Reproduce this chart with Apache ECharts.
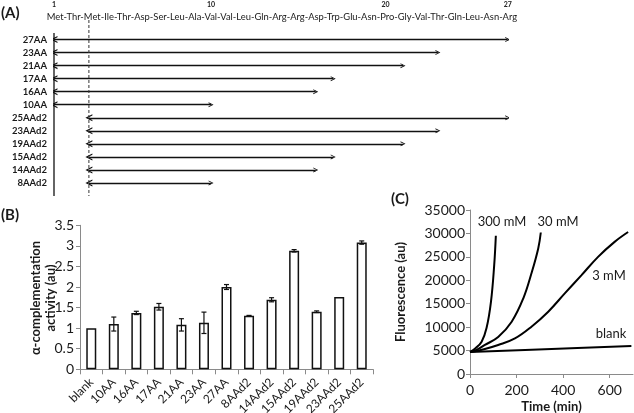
<!DOCTYPE html>
<html><head><meta charset="utf-8">
<script src="https://cdn.jsdelivr.net/npm/echarts@6/dist/echarts.min.js"></script>
<style>html,body{margin:0;padding:0;background:#fff}#c{width:634px;height:413px}</style>
</head><body><div id="c"></div>
<script>
// ---------- Panel A data ----------
const residues = ['Met','Thr','Met','Ile','Thr','Asp','Ser','Leu','Ala','Val','Val','Leu','Gln','Arg','Arg','Asp','Trp','Glu','Asn','Pro','Gly','Val','Thr','Gln','Leu','Asn','Arg'];
const residueTicks = [1, 10, 20, 27];
const constructs = ['27AA','23AA','21AA','17AA','16AA','10AA','25AAd2','23AAd2','19AAd2','15AAd2','14AAd2','8AAd2'];
const constructStart = [1,1,1,1,1,1,3,3,3,3,3,3];
const constructEnd   = [27,23,21,17,16,10,27,23,21,17,16,10];

// ---------- Panel B data ----------
const bCategories = ['blank','10AA','16AA','17AA','21AA','23AA','27AA','8AAd2','14AAd2','15AAd2','19AAd2','23AAd2','25AAd2'];
const bValues = [1.0, 1.1, 1.37, 1.52, 1.08, 1.13, 2.0, 1.3, 1.69, 2.88, 1.4, 1.76, 3.08];
const bErrors = [0, 0.17, 0.04, 0.08, 0.15, 0.26, 0.06, 0.01, 0.05, 0.03, 0.02, 0, 0.04];

// ---------- Panel C data ----------
const cBlank = [[0,4700],[350,5350],[693,6000]];
const c3mM   = [[0,4700],[60,5300],[121,6200],[193,7600],[264,10100],[336,13300],[407,17200],[479,21100],[550,25000],[621,28200],[679,30300]];
const c30mM  = [[0,4700],[30,5200],[64,6200],[121,7900],[179,11160],[229,16150],[264,21500],[293,26800],[304,30200]];
const c300mM = [[0,4700],[21,5400],[50,6900],[71,9800],[90,15400],[104,23300],[111,29500]];
const cLabels = ['300 mM','30 mM','3 mM','blank'];

const FONT = 'Lato';
const TXT = '#1a1a1a';
const AX = '#8a8a8a';

const seqText = residues.join('-');
const cv = document.createElement('canvas').getContext('2d');
cv.font = '10px ' + FONT;
const seqFont = 10 * 471.6 / cv.measureText(seqText).width;

const chev = 'path://M0,10L5,0L10,10L8.2,10L5,3.6L1.8,10Z';
const fullStart = Math.min(...constructStart);
const d2Start = Math.max(...constructStart);

const chart = echarts.init(document.getElementById('c'));
chart.setOption({
  animation: false,
  textStyle: { fontFamily: FONT, color: TXT },
  grid: [
    { left: 54, top: 20, width: 453.7, height: 176, containLabel: false, outerBoundsMode: 'none' },
    { left: 80, top: 225.3, width: 293, height: 144, containLabel: false, outerBoundsMode: 'none' },
    { left: 470, top: 210, right: 1, height: 164, containLabel: false, outerBoundsMode: 'none' }
  ],
  xAxis: [
    { gridIndex: 0, type: 'value', position: 'top', min: 1, max: 27,
      axisLine: { show: false }, axisTick: { show: false }, splitLine: { show: false },
      axisLabel: { customValues: residueTicks, margin: 12, fontSize: 7, fontWeight: 'bold', color: TXT } },
    { gridIndex: 1, type: 'category', data: bCategories,
      axisLine: { lineStyle: { color: AX, width: 1 } },
      axisTick: { show: true, interval: 0, length: 5, lineStyle: { color: AX } },
      axisLabel: { interval: 0, rotate: 45, fontSize: 12, margin: 11, color: TXT } },
    { gridIndex: 2, type: 'value', min: 0, max: 700, interval: 200,
      name: 'Time (min)', nameLocation: 'middle', nameGap: 26,
      nameTextStyle: { fontSize: 13, fontWeight: 'bold', color: TXT },
      axisLine: { lineStyle: { color: AX } }, axisTick: { length: 4, lineStyle: { color: AX } },
      splitLine: { show: false },
      axisLabel: { fontSize: 14, margin: 9, color: TXT, showMaxLabel: false } }
  ],
  yAxis: [
    { gridIndex: 0, type: 'value', inverse: true, min: -1.5, max: 12,
      axisLine: { show: false }, axisTick: { show: false }, splitLine: { show: false },
      axisLabel: { customValues: constructs.map((_, i) => i), formatter: v => constructs[v] || '',
        fontSize: 9.5, fontWeight: 'bold', margin: 7, color: TXT } },
    { gridIndex: 1, type: 'value', min: 0, max: 3.5, interval: 0.5,
      axisLine: { show: true, lineStyle: { color: AX } }, axisTick: { show: true, length: 4, lineStyle: { color: AX } },
      splitLine: { show: false },
      axisLabel: { fontSize: 14, margin: 6, color: TXT } },
    { gridIndex: 2, type: 'value', min: 0, max: 35000, interval: 5000,
      name: 'Fluorescence (au)', nameLocation: 'middle', nameGap: 63, nameRotate: 90,
      nameTextStyle: { fontSize: 13, fontWeight: 'bold', color: TXT },
      axisLine: { show: true, lineStyle: { color: AX } }, axisTick: { show: true, length: 4, lineStyle: { color: AX } },
      splitLine: { show: false },
      axisLabel: { fontSize: 14, margin: 5, color: TXT, formatter: v => String(v) } }
  ],
  series: [
    { type: 'line', xAxisIndex: 0, yAxisIndex: 0, symbol: 'none', silent: true,
      lineStyle: { color: '#111', width: 1.3 },
      data: [[fullStart, -0.5], [fullStart, 12]] },
    { type: 'line', xAxisIndex: 0, yAxisIndex: 0, symbol: 'none', silent: true,
      lineStyle: { color: '#333', width: 1, type: [3, 2] },
      data: [[d2Start, -1.5], [d2Start, 12]] },
    { type: 'lines', coordinateSystem: 'cartesian2d', xAxisIndex: 0, yAxisIndex: 0,
      symbol: [chev, chev], symbolSize: [7, 5], silent: true,
      lineStyle: { color: '#111', width: 1.3, opacity: 1 },
      data: constructs.map((n, i) => ({ name: n, coords: [[constructStart[i], i], [constructEnd[i], i]] })) },
    { type: 'bar', xAxisIndex: 1, yAxisIndex: 1, data: bValues, barWidth: 10,
      itemStyle: { color: '#fff', borderColor: '#111', borderWidth: 1.5 } },
    { type: 'custom', xAxisIndex: 1, yAxisIndex: 1, z: 5, silent: true,
      data: bValues.map((v, i) => [i, v - bErrors[i], v + bErrors[i]]),
      renderItem: (params, api) => {
        const lo = api.coord([api.value(0), api.value(1)]);
        const hi = api.coord([api.value(0), api.value(2)]);
        if (lo[1] - hi[1] < 0.5) return { type: 'group', children: [] };
        const hw = 2.5, st = { stroke: '#111', lineWidth: 1.2 };
        return { type: 'group', children: [
          { type: 'line', shape: { x1: lo[0], y1: lo[1], x2: hi[0], y2: hi[1] }, style: st },
          { type: 'line', shape: { x1: lo[0] - hw, y1: lo[1], x2: lo[0] + hw, y2: lo[1] }, style: st },
          { type: 'line', shape: { x1: hi[0] - hw, y1: hi[1], x2: hi[0] + hw, y2: hi[1] }, style: st }
        ]};
      } },
    ...[c300mM, c30mM, c3mM, cBlank].map((d, k) => ({
      type: 'line', name: cLabels[k], xAxisIndex: 2, yAxisIndex: 2, data: d, smooth: 0.4,
      showSymbol: false, symbol: 'none', lineStyle: { color: '#000', width: 2 }
    }))
  ],
  graphic: [
    { type: 'text', left: 1, top: 6, style: { text: '(A)', font: 'bold 15px ' + FONT, fill: TXT } },
    { type: 'text', left: 1, top: 208, style: { text: '(B)', font: 'bold 15px ' + FONT, fill: TXT } },
    { type: 'text', x: 400, y: 199, style: { text: '(C)', font: 'bold 15px ' + FONT, fill: TXT, align: 'center', verticalAlign: 'middle' } },
    { type: 'text', x: 43, y: 298, rotation: Math.PI / 2,
      style: { text: 'α-complementation\nactivity (au)', font: 'bold 13px ' + FONT, lineHeight: 15, fill: TXT, align: 'center', verticalAlign: 'middle' } },
    { type: 'text', x: 46.7, y: 16.8, style: { text: seqText, font: seqFont.toFixed(2) + 'px ' + FONT, fill: TXT, verticalAlign: 'middle' } },
    { type: 'text', x: 502, y: 221.7, style: { text: cLabels[0], font: '13px ' + FONT, fill: TXT, align: 'center', verticalAlign: 'middle' } },
    { type: 'text', x: 558, y: 221.7, style: { text: cLabels[1], font: '13px ' + FONT, fill: TXT, align: 'center', verticalAlign: 'middle' } },
    { type: 'text', x: 609, y: 276, style: { text: cLabels[2], font: '13px ' + FONT, fill: TXT, align: 'center', verticalAlign: 'middle' } },
    { type: 'text', x: 611, y: 334, style: { text: cLabels[3], font: '13px ' + FONT, fill: TXT, align: 'center', verticalAlign: 'middle' } }
  ]
});
</script>
</body></html>
